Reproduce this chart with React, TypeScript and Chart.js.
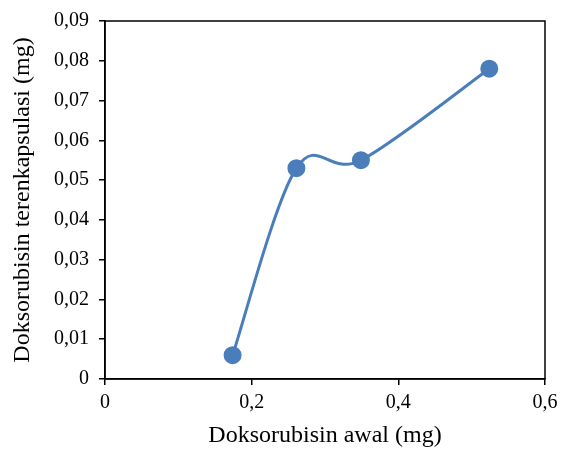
import React, { useEffect, useRef } from "react";
import { Chart, registerables } from "chart.js";

Chart.register(...registerables);

const xValues = [0.174, 0.261, 0.349, 0.524];
const yValues = [0.006, 0.053, 0.055, 0.078];
const xTitle = "Doksorubisin awal (mg)";
const yTitle = "Doksorubisin terenkapsulasi (mg)";

const fmt = (v: number, d: number) => (v === 0 ? "0" : v.toFixed(d).replace(".", ","));

const boxPlugin = {
  id: "box",
  afterDraw(chart: any) {
    const { ctx, chartArea } = chart;
    ctx.save();
    ctx.strokeStyle = "#000";
    ctx.lineWidth = 1.5;
    ctx.strokeRect(chartArea.left, chartArea.top, chartArea.right - chartArea.left, chartArea.bottom - chartArea.top);
    ctx.restore();
  },
};

// Office-style smoothing: control points at +/- (next - prev) / 6
const smoothPlugin = {
  id: "officeSmooth",
  beforeDatasetsDraw(chart: any) {
    const meta = chart.getDatasetMeta(0);
    if (!meta || !meta.dataset) return;
    meta.dataset.updateControlPoints(chart.chartArea, "x");
    const pts = meta.data;
    const n = pts.length;
    for (let i = 0; i < n; i++) {
      const p = pts[i];
      const prev = pts[Math.max(i - 1, 0)];
      const next = pts[Math.min(i + 1, n - 1)];
      const dx = (next.x - prev.x) / 6;
      const dy = (next.y - prev.y) / 6;
      p.cp1x = p.x - dx;
      p.cp1y = p.y - dy;
      p.cp2x = p.x + dx;
      p.cp2y = p.y + dy;
    }
  },
};

export default function App() {
  const ref = useRef<HTMLCanvasElement>(null);
  useEffect(() => {
    document.body.style.margin = "0";
    const family = "'Liberation Serif', 'Times New Roman', serif";
    const tickFont = { family, size: 20 };
    const titleFont = { family, size: 24 };
    const chart = new Chart(ref.current!, {
      type: "scatter",
      data: {
        datasets: [
          {
            data: xValues.map((x, i) => ({ x, y: yValues[i] })),
            showLine: true,
            borderColor: "#4A7EBB",
            backgroundColor: "#4A7EBB",
            borderWidth: 3,
            pointRadius: 7.5,
            pointHoverRadius: 7.5,
            tension: 0.4,
          },
        ],
      },
      options: {
        animation: false,
        responsive: false,
        layout: { padding: { top: 21, right: 16, left: 8, bottom: 0 } },
        plugins: { legend: { display: false }, tooltip: { enabled: false } },
        scales: {
          x: {
            type: "linear",
            min: 0,
            max: 0.6,
            afterFit: (s: any) => { s.height = 71; s.paddingRight = 0; s.paddingLeft = 0; },
            ticks: { stepSize: 0.2, color: "#000", font: tickFont, padding: 6, callback: (v: any) => fmt(Number(v), 1) },
            grid: { drawOnChartArea: false, drawTicks: true, tickLength: 6, color: "#000", lineWidth: 1.5 },
            border: { display: true, color: "#000", width: 1.5 },
            title: { display: true, text: xTitle, color: "#000", font: titleFont, padding: { top: 0, bottom: 0 } },
          },
          y: {
            type: "linear",
            min: 0,
            max: 0.09,
            afterFit: (s: any) => { s.width = 97; s.paddingTop = 0; s.paddingBottom = 0; },
            ticks: { stepSize: 0.01, color: "#000", font: tickFont, padding: 10, callback: (v: any) => fmt(Number(v), 2) },
            grid: { drawOnChartArea: false, drawTicks: true, tickLength: 6, color: "#000", lineWidth: 1.5 },
            border: { display: true, color: "#000", width: 1.5 },
            title: { display: true, text: yTitle, color: "#000", font: titleFont, padding: { top: 0, bottom: 0 } },
          },
        },
      },
      plugins: [smoothPlugin, boxPlugin],
    });
    return () => chart.destroy();
  }, []);
  return <canvas ref={ref} width={561} height={450} style={{ display: "block" }} />;
}
